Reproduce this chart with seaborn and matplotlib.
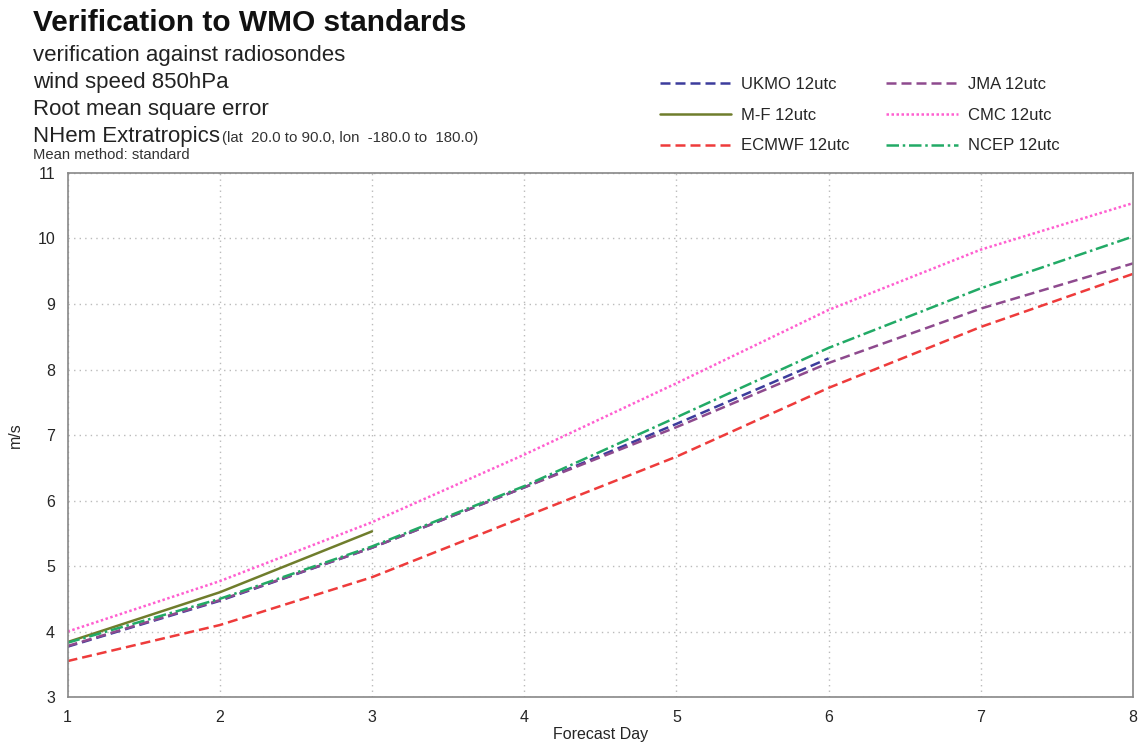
import numpy as np
import pandas as pd
import matplotlib
matplotlib.use("Agg")
import matplotlib.pyplot as plt
import seaborn as sns

days = [1, 2, 3, 4, 5, 6, 7, 8]
ukmo = [3.77, 4.47, 5.28, 6.20, 7.17, 8.17]
jma = [3.78, 4.48, 5.28, 6.20, 7.12, 8.10, 8.93, 9.62]
mf = [3.84, 4.60, 5.53]
cmc = [4.00, 4.77, 5.67, 6.70, 7.79, 8.91, 9.83, 10.54]
ecmwf = [3.55, 4.10, 4.83, 5.75, 6.67, 7.72, 8.65, 9.46]
ncep = [3.83, 4.50, 5.30, 6.22, 7.27, 8.33, 9.24, 10.03]

series = [
    ("UKMO 12utc", ukmo, "#3c3c9c", (0, (4, 2))),
    ("M-F 12utc", mf, "#6f7d2c", "-"),
    ("ECMWF 12utc", ecmwf, "#ee3b3b", (0, (4, 2))),
    ("JMA 12utc", jma, "#8e4a8e", (0, (4, 2))),
    ("CMC 12utc", cmc, "#ff5fd0", (0, (1, 1))),
    ("NCEP 12utc", ncep, "#22aa66", (0, (5, 1.5, 1, 1.5))),
]

sns.set_style("white")
plt.rcParams['font.family'] = ['Liberation Sans', 'DejaVu Sans']

fig = plt.figure(figsize=(11.45, 7.44), dpi=100)
ax = fig.add_axes([0.059, 0.063, 0.9305, 0.7045])

for name, vals, col, ls in series:
    sns.lineplot(x=days[:len(vals)], y=vals, ax=ax, color=col, linestyle=ls,
                 linewidth=1.8, label=name, legend=False)

ax.set_xlim(1, 8)
ax.set_ylim(3, 11)
ax.set_xticks(days)
ax.set_yticks(range(3, 12))
ax.grid(True, color="#bbbbbb", linestyle=(0, (1, 3)), linewidth=1.0)
for s in ax.spines.values():
    s.set_color("#888888")
    s.set_linewidth(1.2)
ax.tick_params(axis="both", direction="out", length=6, width=1.2, color="#888888",
               labelsize=11.5, pad=3)
ax.set_xlabel("Forecast Day", fontsize=11.5, labelpad=2)
ax.set_ylabel("m/s", fontsize=11.5, labelpad=10)

fig.text(0.029, 0.969, "Verification to WMO standards", fontsize=21.5, fontweight="bold",
         va="center", color="#111111")
subs = ["verification against radiosondes", "wind speed 850hPa", "Root mean square error"]
for i, t in enumerate(subs):
    fig.text(0.029, 0.926 - i * 0.0363, t, fontsize=16, va="center", color="#222222")
fig.text(0.029, 0.817, "NHem Extratropics", fontsize=16, va="center", color="#222222")
fig.text(0.194, 0.815, "(lat  20.0 to 90.0, lon  -180.0 to  180.0)", fontsize=10.8,
         va="center", color="#333333")
fig.text(0.029, 0.792, "Mean method: standard", fontsize=10.6, va="center", color="#333333")

handles, labels = ax.get_legend_handles_labels()
fig.legend(handles, labels, ncol=2, loc="upper left", bbox_to_anchor=(0.563, 0.917),
           frameon=False, fontsize=12, handlelength=4.3, columnspacing=2.2,
           labelspacing=0.95, handletextpad=0.6)

fig.savefig("out.png", dpi=100)
